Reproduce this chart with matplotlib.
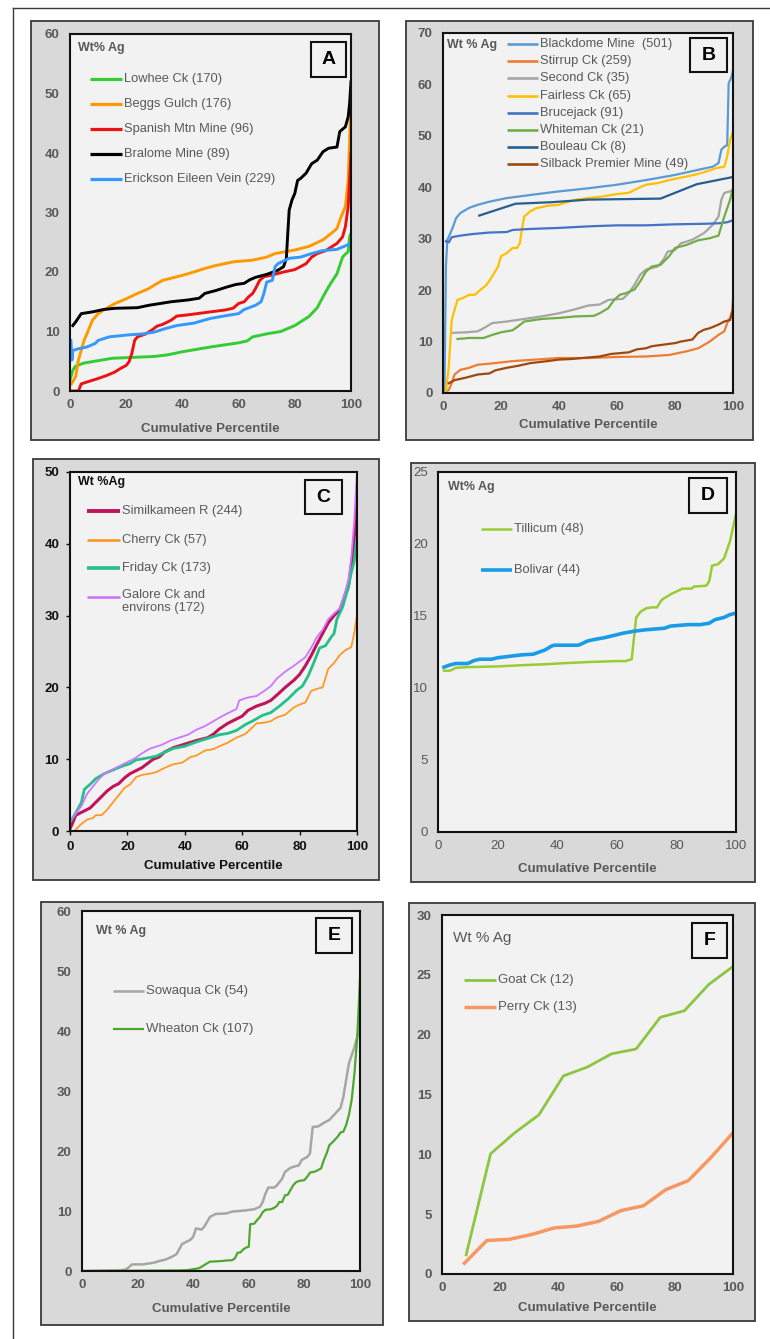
import matplotlib.pyplot as plt
from matplotlib.patches import Rectangle
from matplotlib.lines import Line2D

plt.rcParams['font.family'] = ['Liberation Sans', 'DejaVu Sans']

W, H = 770, 1339
GRAY = '#595959'

# ---------------- panel A ----------------
lowhee_x = [0, 1, 2, 5, 10, 15, 20, 30, 35, 40, 50, 60, 63, 65, 70, 75, 80, 85, 88, 90, 92, 95, 97, 98, 99, 99.5, 100]
lowhee_y = [1.8, 3.5, 4.2, 4.7, 5.1, 5.5, 5.6, 5.8, 6.1, 6.6, 7.4, 8.1, 8.4, 9.1, 9.6, 10.0, 11.0, 12.5, 14.0, 15.8, 17.5, 19.7, 22.5, 23.0, 23.4, 25.9, 26.5]
beggs_x = [0.5, 2, 3, 5, 6, 8, 10, 13, 16, 20, 24, 28, 30, 33, 38, 42, 48, 52, 58, 65, 70, 73, 80, 85, 90, 93, 95, 96, 98, 99, 99.5, 100]
beggs_y = [1.2, 2.4, 5.2, 8.5, 9.6, 11.9, 13.0, 13.9, 14.7, 15.5, 16.4, 17.2, 17.8, 18.6, 19.2, 19.7, 20.6, 21.1, 21.7, 22.0, 22.5, 23.1, 23.7, 24.3, 25.4, 26.5, 27.3, 28.7, 31.0, 35.4, 42.0, 50.0]
spanish_x = [0, 3, 4, 8, 10, 13, 16, 18, 20, 21, 22, 23, 24, 27, 29, 31, 33, 36, 38, 42, 50, 55, 58, 60, 62, 63.5, 65, 66, 67.5, 69, 72, 76, 80, 82, 84, 86, 88, 91, 93, 95, 97, 98, 99, 99.5, 100]
spanish_y = [0, 0, 1.2, 1.8, 2.1, 2.6, 3.2, 3.8, 4.3, 4.9, 6.3, 8.5, 9.1, 9.6, 10.2, 10.9, 11.2, 11.9, 12.6, 12.8, 13.3, 13.6, 13.9, 14.7, 15.0, 15.8, 16.4, 17.2, 18.6, 19.2, 19.5, 20.0, 20.4, 20.9, 21.4, 22.5, 23.1, 23.6, 24.2, 24.8, 25.9, 27.6, 31.0, 35.4, 39.9]
bralome_x = [1, 2, 4, 8, 12, 16, 24, 28, 32, 36, 42, 46, 48, 52, 56, 59, 62, 64, 66, 70, 74, 76, 77, 77.5, 78, 79, 80, 81, 82, 84, 86, 88, 90, 92, 95, 96, 98, 99, 99.5, 100]
bralome_y = [11.0, 11.6, 13.0, 13.3, 13.7, 13.9, 14.0, 14.4, 14.7, 15.0, 15.3, 15.6, 16.4, 16.9, 17.5, 17.9, 18.1, 18.7, 19.1, 19.6, 20.3, 20.9, 22.3, 26.5, 30.4, 32.1, 33.2, 35.4, 35.7, 36.6, 38.2, 38.8, 40.2, 40.8, 41.0, 43.6, 44.4, 46.1, 48.3, 52.0]
erickson_x = [0.3, 0.7, 1, 3, 6, 9, 10, 14, 20, 26, 30, 34, 38, 44, 50, 56, 60, 62, 66, 68, 69, 70, 72, 73, 74, 78, 82, 86, 90, 95, 100]
erickson_y = [8.5, 5.2, 6.8, 7.1, 7.4, 8.0, 8.5, 9.1, 9.4, 9.6, 9.9, 10.5, 11.0, 11.4, 12.2, 12.7, 13.0, 13.7, 14.4, 15.0, 16.4, 18.3, 18.6, 20.9, 21.4, 22.3, 22.5, 23.1, 23.6, 23.8, 24.8]

# ---------------- panel B ----------------
blackdome_x = [0.5, 1, 1.5, 2.5, 3.5, 4.5, 6, 9, 12, 16, 22, 30, 40, 50, 60, 70, 80, 88, 93, 95, 96, 97, 98, 98.5, 99.5, 100]
blackdome_y = [0, 24.6, 29.8, 31.0, 32.4, 34.0, 35.0, 36.0, 36.6, 37.2, 37.9, 38.5, 39.2, 39.8, 40.5, 41.4, 42.4, 43.4, 44.0, 44.7, 47.3, 47.9, 48.2, 60.2, 61.5, 62.8]
stirrup_x = [0.5, 2, 3, 4, 6, 9, 12, 16, 24, 32, 40, 50, 60, 70, 78, 84, 88, 92, 95, 97, 98, 99, 99.7, 100]
stirrup_y = [0, 0.6, 1.9, 3.6, 4.5, 4.9, 5.5, 5.7, 6.2, 6.5, 6.8, 6.8, 7.0, 7.1, 7.4, 8.1, 8.7, 10.0, 11.3, 12.0, 13.6, 14.6, 16.0, 18.3]
second_x = [3, 8, 12, 14, 17, 22, 28, 34, 40, 45, 50, 54, 57, 62, 64, 66, 68, 70, 74, 76, 77.5, 80, 82, 86, 90, 93, 95, 96, 97, 99, 100]
second_y = [11.7, 11.8, 12.0, 12.6, 13.6, 13.9, 14.4, 14.9, 15.5, 16.2, 17.0, 17.2, 18.1, 18.3, 19.4, 21.0, 23.0, 24.0, 24.6, 25.9, 27.5, 27.8, 29.1, 29.8, 31.1, 32.7, 34.3, 37.6, 38.9, 39.2, 39.5]
fairless_x = [1, 2, 3, 4, 5, 7, 9, 11, 13, 15, 17, 19, 20, 22, 24, 25.5, 26.5, 27, 28, 30, 32, 36, 40, 42, 46, 50, 55, 60, 64, 66, 70, 74, 78, 84, 88, 91, 94, 97, 98, 99, 100]
fairless_y = [0, 5.2, 14.2, 16.2, 18.1, 18.5, 19.1, 19.1, 20.1, 21.0, 22.7, 24.6, 26.6, 27.2, 28.2, 28.2, 29.1, 31.1, 34.3, 35.3, 35.9, 36.4, 36.6, 37.0, 37.6, 37.9, 38.2, 38.7, 38.9, 39.5, 40.5, 40.8, 41.4, 42.1, 42.6, 43.1, 43.7, 44.0, 46.0, 49.2, 50.8]
brucejack_x = [1, 2, 3, 6, 10, 16, 22, 24, 30, 40, 50, 60, 70, 80, 90, 95, 98, 100]
brucejack_y = [29.5, 29.3, 30.3, 30.6, 30.9, 31.2, 31.3, 31.7, 31.9, 32.1, 32.4, 32.6, 32.6, 32.8, 32.9, 33.0, 33.2, 33.6]
whiteman_x = [5, 9, 14, 17, 20, 24, 26, 28, 34, 40, 46, 52, 54, 57, 59, 61, 63, 66, 68, 70, 72, 75, 78, 80, 84, 88, 92, 95, 97, 99, 100]
whiteman_y = [10.5, 10.7, 10.7, 11.3, 11.8, 12.2, 13.0, 13.9, 14.4, 14.6, 14.9, 15.0, 15.5, 16.5, 18.1, 19.1, 19.4, 20.1, 21.7, 23.6, 24.6, 24.9, 26.6, 28.2, 28.8, 29.7, 30.1, 30.6, 34.3, 37.6, 39.8]
bouleau_x = [12.5, 25, 37.5, 50, 62.5, 75, 87.5, 100]
bouleau_y = [34.5, 36.8, 37.1, 37.6, 37.7, 37.8, 40.6, 42.0]
silback_x = [2, 4, 8, 12, 16, 18, 22, 26, 30, 36, 40, 44, 50, 54, 58, 64, 67, 70, 72, 76, 80, 82, 86, 88, 90, 92, 95, 97, 99, 100]
silback_y = [1.9, 2.5, 3.0, 3.6, 3.8, 4.4, 4.9, 5.3, 5.8, 6.2, 6.5, 6.6, 6.9, 7.1, 7.6, 7.9, 8.5, 8.7, 9.1, 9.4, 9.7, 10.0, 10.4, 11.7, 12.3, 12.6, 13.3, 13.9, 14.2, 16.2]

# ---------------- panel C ----------------
simil_x = [0, 1, 2, 5, 7, 9, 11, 13, 15, 17, 19, 21, 23, 25, 27, 29, 31, 33, 36, 40, 44, 48, 50, 52, 55, 58, 60, 62, 65, 68, 70, 72, 75, 78, 80, 82, 84, 86, 88, 90, 92, 94, 96, 97, 98, 99, 100]
simil_y = [0.3, 1.2, 2.2, 2.8, 3.2, 4.0, 4.8, 5.6, 6.2, 6.6, 7.4, 8.0, 8.4, 8.8, 9.4, 10.0, 10.3, 11.0, 11.6, 12.1, 12.6, 13.0, 13.5, 14.2, 15.0, 15.6, 16.0, 16.8, 17.4, 17.8, 18.2, 18.9, 20.0, 21.0, 21.8, 23.0, 24.4, 26.0, 27.5, 29.0, 30.0, 30.8, 33.0, 34.0, 37.0, 40.0, 46.0]
cherry_x = [2, 4, 6, 8, 9, 11, 13, 15, 17, 19, 21, 23, 25, 28, 30, 33, 36, 39, 42, 44, 47, 50, 52, 55, 58, 61, 63, 65, 68, 70, 72, 75, 78, 80, 82, 84, 86, 88, 90, 92, 94, 96, 98, 99, 100]
cherry_y = [0.2, 1.0, 1.6, 1.8, 2.2, 2.2, 3.0, 4.0, 5.0, 6.0, 6.5, 7.5, 7.8, 8.0, 8.2, 8.8, 9.3, 9.5, 10.3, 10.5, 11.2, 11.4, 11.8, 12.3, 13.0, 13.5, 14.2, 15.0, 15.1, 15.3, 15.8, 16.2, 17.2, 17.6, 17.9, 19.5, 19.8, 20.0, 22.6, 23.4, 24.5, 25.2, 25.6, 27.5, 30.0]
friday_x = [0, 2, 4, 5, 7, 9, 12, 15, 18, 21, 23, 26, 30, 33, 36, 40, 44, 48, 52, 55, 58, 61, 64, 67, 70, 73, 76, 79, 81, 83, 85, 87, 89, 91, 92, 93, 95, 97, 98, 99, 100]
friday_y = [1.2, 2.5, 4.0, 5.8, 6.5, 7.3, 8.0, 8.5, 9.0, 9.4, 9.9, 10.1, 10.4, 11.0, 11.5, 11.8, 12.4, 12.9, 13.4, 13.6, 14.0, 14.8, 15.4, 16.1, 16.5, 17.4, 18.4, 19.6, 20.2, 21.6, 23.5, 25.5, 25.8, 27.0, 27.5, 29.5, 31.2, 34.0, 36.0, 37.5, 41.0]
galore_x = [0, 2, 4, 6, 8, 10, 12, 15, 18, 20, 23, 25, 28, 32, 35, 38, 41, 44, 47, 50, 53, 56, 58, 59, 62, 65, 68, 70, 72, 75, 78, 80, 82, 84, 86, 88, 90, 92, 94, 96, 97, 98, 99, 100]
galore_y = [1.5, 2.4, 3.5, 5.2, 6.2, 7.2, 8.0, 8.6, 9.2, 9.6, 10.2, 10.8, 11.5, 12.0, 12.6, 13.0, 13.4, 14.1, 14.6, 15.3, 16.0, 16.6, 17.0, 18.2, 18.6, 18.8, 19.6, 20.2, 21.2, 22.2, 23.0, 23.6, 24.2, 25.5, 27.0, 28.0, 29.5, 30.3, 31.0, 33.5, 35.0, 38.0, 43.0, 50.0]

# ---------------- panel D ----------------
tillicum_x = [2, 4, 6, 10, 20, 30, 36, 40, 50, 60, 63, 65, 66.5, 68, 70, 72, 73.5, 75, 76, 78, 80, 82, 85, 86, 90, 91, 92, 94, 96, 98, 100]
tillicum_y = [11.2, 11.2, 11.4, 11.45, 11.5, 11.6, 11.65, 11.7, 11.8, 11.87, 11.87, 12.0, 14.9, 15.3, 15.55, 15.6, 15.6, 16.1, 16.25, 16.5, 16.7, 16.9, 16.9, 17.05, 17.1, 17.4, 18.5, 18.6, 19.0, 20.2, 22.1]
bolivar_x = [2, 4, 6, 10, 12, 14, 18, 20, 24, 28, 32, 34, 36, 38, 39, 47, 48, 50, 52, 56, 60, 62, 66, 70, 76, 78, 84, 88, 91, 93, 96, 98, 100]
bolivar_y = [11.45, 11.6, 11.7, 11.7, 11.9, 12.0, 12.0, 12.1, 12.2, 12.3, 12.35, 12.5, 12.65, 12.9, 12.97, 12.97, 13.05, 13.25, 13.35, 13.5, 13.7, 13.8, 13.95, 14.05, 14.15, 14.3, 14.4, 14.4, 14.5, 14.75, 14.9, 15.1, 15.2]

# ---------------- panel E ----------------
sowaqua_x = [0, 14, 16, 18, 22, 26, 28, 30, 32, 34, 36, 39, 40, 41, 43, 44, 46, 48, 52, 54, 58, 62, 64, 65, 66, 67, 69, 70, 72, 73, 75, 77, 78, 79, 81, 82, 83, 85, 87, 89, 91, 93, 94, 95, 96, 98, 100]
sowaqua_y = [0, 0.1, 0.3, 1.1, 1.1, 1.4, 1.7, 1.9, 2.3, 2.8, 4.5, 5.2, 5.7, 7.1, 6.9, 7.4, 9.0, 9.5, 9.6, 9.9, 10.05, 10.3, 10.7, 11.5, 12.9, 13.9, 13.9, 14.2, 15.4, 16.5, 17.2, 17.5, 17.6, 18.5, 19.0, 19.6, 24.0, 24.1, 24.7, 25.2, 26.2, 27.2, 29.0, 31.8, 34.6, 37.3, 40.7]
wheaton_x = [0, 35, 38, 40, 42, 43, 44, 46, 48, 50, 52, 54, 55, 56, 57, 58, 59, 60, 60.5, 62, 63, 64, 65, 66, 68, 69, 70, 71, 72, 73, 74, 75, 76, 77, 78, 80, 81, 82, 84, 86, 87, 88, 89, 90, 92, 93, 94, 95, 96, 97, 98, 99, 100]
wheaton_y = [0, 0.1, 0.15, 0.3, 0.45, 0.7, 1.0, 1.55, 1.6, 1.65, 1.75, 1.8, 2.1, 3.05, 3.1, 3.6, 3.9, 4.05, 7.8, 7.9, 8.5, 9.0, 9.8, 10.2, 10.3, 10.5, 10.8, 11.5, 11.5, 12.6, 12.7, 13.5, 14.3, 14.8, 15.0, 15.15, 15.7, 16.4, 16.6, 17.1, 18.5, 19.6, 21.0, 21.4, 22.4, 23.1, 23.2, 24.3, 26.0, 28.5, 32.9, 39.0, 48.7]

# ---------------- panel F ----------------
goat_x = [8.3, 16.7, 25, 33.3, 41.7, 50, 58.3, 66.7, 75, 83.3, 91.7, 100]
goat_y = [1.6, 10.05, 11.8, 13.3, 16.55, 17.3, 18.4, 18.8, 21.45, 22.0, 24.2, 25.7]
perry_x = [7.7, 15.4, 23.1, 30.8, 38.5, 46.2, 53.8, 61.5, 69.2, 76.9, 84.6, 92.3, 100]
perry_y = [0.9, 2.8, 2.9, 3.3, 3.85, 4.0, 4.4, 5.3, 5.7, 7.05, 7.8, 9.7, 11.8]


fig = plt.figure(figsize=(W / 100, H / 100), dpi=100)


def fx(x):
    return x / W


def fy(y):
    return 1 - y / H


def panel(box, area, ymax, ystep, letter, letter_box, wt_text, wt_pos, tick_color=GRAY,
          tick_bold=True, ticks=False, wt_bold=True, wt_size=9, xlab_y=0, xlab_color=GRAY):
    bx0, by0, bx1, by1 = box
    fig.add_artist(Rectangle((fx(bx0), fy(by1)), fx(bx1 - bx0), (by1 - by0) / H,
                             transform=fig.transFigure, fc='#d9d9d9', ec='#3a3a3a',
                             lw=1.3, zorder=-5))
    x0, y0, x1, y1 = area
    ax = fig.add_axes([fx(x0), fy(y1), fx(x1 - x0), (y1 - y0) / H])
    ax.set_facecolor('#f2f2f2')
    for s in ax.spines.values():
        s.set_linewidth(1.5)
        s.set_color('#111111')
    ax.set_xlim(0, 100)
    ax.set_ylim(0, ymax)
    ax.set_xticks(range(0, 101, 20))
    ax.set_yticks(range(0, ymax + 1, ystep))
    tl = 3 if ticks else 0
    ax.tick_params(axis='y', length=tl, width=1, pad=7.5 - tl * 0.9, labelsize=9.5, colors=tick_color)
    ax.tick_params(axis='x', length=tl, width=1, pad=6 - tl * 0.7, labelsize=9.5, colors=tick_color)
    for lbl in ax.get_xticklabels() + ax.get_yticklabels():
        lbl.set_fontweight('bold' if tick_bold else 'normal')
    # panel letter box
    lx0, ly0, lx1, ly1 = letter_box
    fig.add_artist(Rectangle((fx(lx0), fy(ly1)), fx(lx1 - lx0), (ly1 - ly0) / H,
                             transform=fig.transFigure, fc='#f2f2f2', ec='#111111',
                             lw=1.5, zorder=5))
    fig.text(fx((lx0 + lx1) / 2), fy((ly0 + ly1) / 2), letter, fontsize=14,
             fontweight='bold', ha='center', va='center', zorder=6)
    fig.text(fx(wt_pos[0]), fy(wt_pos[1]), wt_text, fontsize=wt_size,
             fontweight='bold' if wt_bold else 'normal',
             color='#111111' if tick_color != GRAY else GRAY, ha='left', va='center')
    fig.text(fx((x0 + x1) / 2), fy(xlab_y), 'Cumulative Percentile', fontsize=9.5,
             fontweight='bold', color=xlab_color, ha='center', va='center')
    return ax


def legend(entries, x0, x1, y0, dy, fs=9):
    for i, (lab, col, lw) in enumerate(entries):
        y = y0 + i * dy
        fig.add_artist(Line2D([fx(x0), fx(x1)], [fy(y), fy(y)], color=col, lw=lw,
                              transform=fig.transFigure, zorder=5, solid_capstyle='butt'))
        if '\n' in lab:
            fig.text(fx(x1 + 2), fy(y - 8), lab, fontsize=fs, color=GRAY, ha='left',
                     va='top', linespacing=1.15)
        else:
            fig.text(fx(x1 + 2), fy(y), lab, fontsize=fs, color=GRAY, ha='left', va='center')


# Panel A
axA = panel((31, 21, 379, 440), (70, 34, 351, 391), 60, 10, 'A', (311, 42, 346, 77),
            'Wt% Ag', (78, 48), xlab_y=429)
serA = [('Lowhee Ck (170)', lowhee_x, lowhee_y, '#33cc33'),
        ('Beggs Gulch (176)', beggs_x, beggs_y, '#ff9900'),
        ('Spanish Mtn Mine (96)', spanish_x, spanish_y, '#ee1111'),
        ('Bralome Mine (89)', bralome_x, bralome_y, '#000000'),
        ('Erickson Eileen Vein (229)', erickson_x, erickson_y, '#3399ff')]
for lab, xs, ys, c in serA:
    axA.plot(xs, ys, color=c, lw=2.1)
legend([(s[0], s[3], 2.3) for s in serA], 90, 122, 79, 25, fs=9.3)

# Panel B
axB = panel((406, 21, 753, 440), (443, 33, 733, 393), 70, 10, 'B', (690, 38, 727, 72),
            'Wt % Ag', (447, 45), xlab_y=425)
serB = [('Blackdome Mine  (501)', blackdome_x, blackdome_y, '#5b9bd5'),
        ('Stirrup Ck (259)', stirrup_x, stirrup_y, '#ed7d31'),
        ('Second Ck (35)', second_x, second_y, '#a5a5a5'),
        ('Fairless Ck (65)', fairless_x, fairless_y, '#ffc000'),
        ('Brucejack (91)', brucejack_x, brucejack_y, '#4472c4'),
        ('Whiteman Ck (21)', whiteman_x, whiteman_y, '#70ad47'),
        ('Bouleau Ck (8)', bouleau_x, bouleau_y, '#255e91'),
        ('Silback Premier Mine (49)', silback_x, silback_y, '#9e480e')]
for lab, xs, ys, c in serB:
    axB.plot(xs, ys, color=c, lw=1.6)
legend([(s[0], s[3], 1.9) for s in serB], 507, 538, 44, 17.2, fs=9.3)

# Panel C
axC = panel((33, 459, 379, 880), (70, 472, 357, 831), 50, 10, 'C', (305, 480, 342, 514),
            'Wt %Ag', (78, 482), tick_color='#111111', ticks=True, xlab_y=866,
            xlab_color='#111111')
serC = [('Similkameen R (244)', simil_x, simil_y, '#c0145a', 2.2),
        ('Cherry Ck (57)', cherry_x, cherry_y, '#ff9922', 1.3),
        ('Friday Ck (173)', friday_x, friday_y, '#22c08a', 2.0),
        ('Galore Ck and\nenvirons (172)', galore_x, galore_y, '#cc77ff', 1.3)]
for lab, xs, ys, c, lw in serC:
    axC.plot(xs, ys, color=c, lw=lw)
legend([(s[0], s[3], s[4] + 0.6) for s in serC], 87, 120, 511, 28.7, fs=9.3)

# Panel D
axD = panel((411, 463, 755, 882), (438, 472, 736, 832), 25, 5, 'D', (689, 478, 727, 513),
            'Wt% Ag', (448, 487), tick_bold=False, xlab_y=869)
serD = [('Tillicum (48)', tillicum_x, tillicum_y, '#99cc33', 1.8),
        ('Bolivar (44)', bolivar_x, bolivar_y, '#1a9be8', 2.6)]
for lab, xs, ys, c, lw in serD:
    axD.plot(xs, ys, color=c, lw=lw)
legend([(s[0], s[3], s[4]) for s in serD], 481, 512, 529, 41, fs=9.3)

# Panel E
axE = panel((41, 902, 383, 1325), (82, 911, 360, 1271), 60, 10, 'E', (316, 918, 352, 953),
            'Wt % Ag', (96, 931), xlab_y=1309)
serE = [('Sowaqua Ck (54)', sowaqua_x, sowaqua_y, '#a6a6a6', 1.8),
        ('Wheaton Ck (107)', wheaton_x, wheaton_y, '#4ea72e', 1.6)]
for lab, xs, ys, c, lw in serE:
    axE.plot(xs, ys, color=c, lw=lw)
legend([(s[0], s[3], s[4]) for s in serE], 113, 144, 991, 38, fs=9.5)

# Panel F
axF = panel((409, 903, 755, 1321), (442, 915, 733, 1274), 30, 5, 'F', (692, 923, 727, 958),
            'Wt % Ag', (453, 938), wt_bold=False, wt_size=11, xlab_y=1308)
serF = [('Goat Ck (12)', goat_x, goat_y, '#8cc63f', 2.0),
        ('Perry Ck (13)', perry_x, perry_y, '#f79862', 2.5)]
for lab, xs, ys, c, lw in serF:
    axF.plot(xs, ys, color=c, lw=lw)
legend([(s[0], s[3], s[4]) for s in serF], 464, 496, 980, 27, fs=9.5)

# outer frame lines
fig.add_artist(Line2D([fx(13), fx(13)], [fy(8), 0], color='#3a3a3a', lw=1,
                      transform=fig.transFigure))
fig.add_artist(Line2D([fx(13), 1], [fy(8), fy(8)], color='#3a3a3a', lw=1,
                      transform=fig.transFigure))

fig.savefig('out.png', dpi=100, facecolor='white')
